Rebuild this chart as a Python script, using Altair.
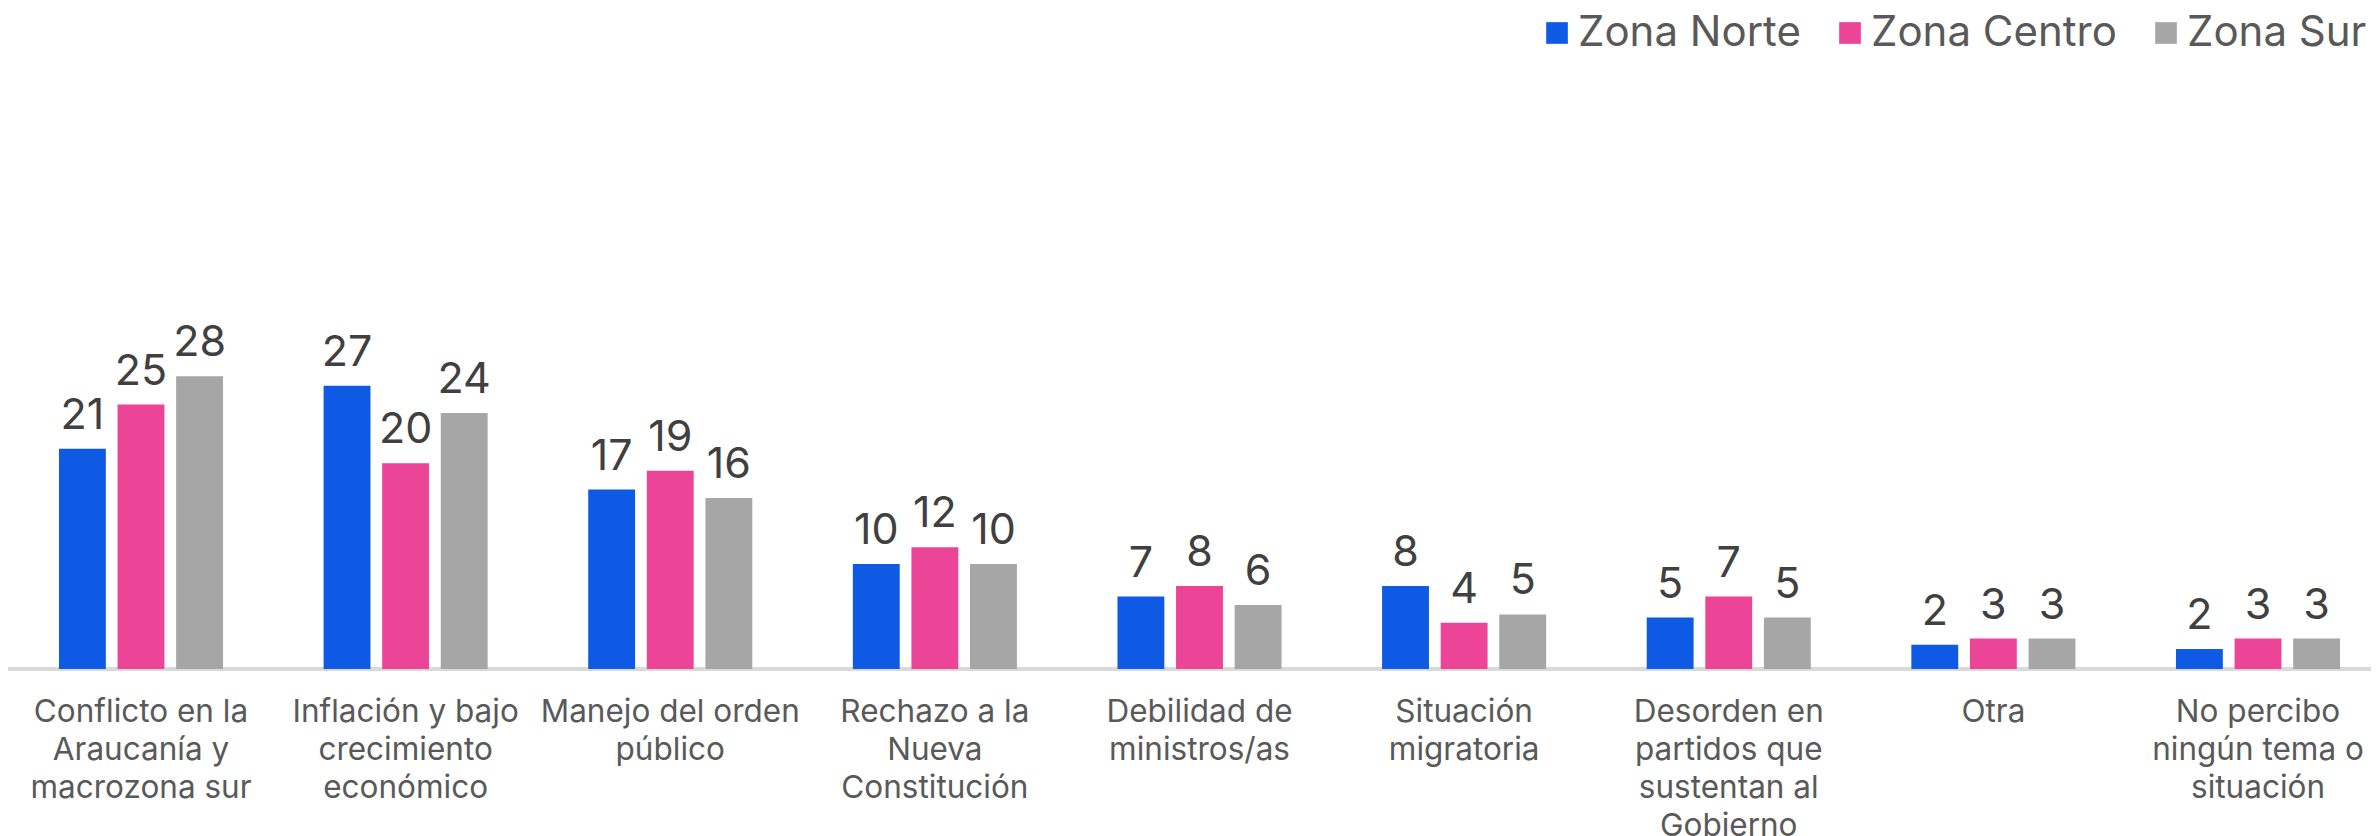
import altair as alt
import pandas as pd

categories = [
    "Conflicto en la\nAraucanía y\nmacrozona sur",
    "Inflación y bajo\ncrecimiento\neconómico",
    "Manejo del orden\npúblico",
    "Rechazo a la\nNueva\nConstitución",
    "Debilidad de\nministros/as",
    "Situación\nmigratoria",
    "Desorden en\npartidos que\nsustentan al\nGobierno",
    "Otra",
    "No percibo\nningún tema o\nsituación",
]
zones = ["Zona Norte", "Zona Centro", "Zona Sur"]
norte = [21.0, 27.0, 17.1, 10.0, 6.9, 7.9, 4.9, 2.3, 1.9]
centro = [25.2, 19.6, 18.9, 11.6, 7.9, 4.4, 6.9, 2.9, 2.9]
sur = [27.9, 24.4, 16.3, 10.0, 6.1, 5.2, 4.9, 2.9, 2.9]
colors = ["#0F5AE5", "#EC4497", "#A6A6A6"]

rows = []
for zone, vals in zip(zones, [norte, centro, sur]):
    for c, v in zip(categories, vals):
        rows.append({"tema": c, "zona": zone, "valor": v})
df = pd.DataFrame(rows)

FONT = "Inter"
LEFT = 20
W = 2343
H = 661

base = alt.Chart(df).encode(
    x=alt.X(
        "tema:N",
        sort=categories,
        title=None,
        scale=alt.Scale(paddingInner=0.38, paddingOuter=0.117),
        axis=alt.Axis(
            labelExpr="split(datum.label, '\\n')",
            labelAngle=0,
            labelFont=FONT,
            labelFontSize=31.5,
            labelLineHeight=38,
            labelColor="#595959",
            labelPadding=27,
            labelBaseline="top",
            ticks=False,
            domain=False,
            labelLimit=400,
        ),
    ),
    xOffset=alt.XOffset(
        "zona:N", sort=zones, scale=alt.Scale(paddingInner=0.2, paddingOuter=0)
    ),
    y=alt.Y(
        "valor:Q",
        scale=alt.Scale(domain=[0, 63], nice=False),
        axis=None,
    ),
)

baseline = alt.Chart(df).mark_rule(color="#D9D9D9", strokeWidth=3).encode(
    x=alt.value(-LEFT), x2=alt.value(W + 8), y=alt.value(H)
)

bars = base.mark_bar().encode(
    color=alt.Color(
        "zona:N",
        sort=zones,
        scale=alt.Scale(domain=zones, range=colors),
        legend=alt.Legend(
            title=None,
            orient="top-right",
            offset=4,
            direction="horizontal",
            symbolType="square",
            symbolSize=470,
            symbolStrokeWidth=0,
            symbolOpacity=1,
            labelFont=FONT,
            labelFontSize=42,
            labelColor="#595959",
            labelOffset=0,
            columnPadding=28,
            labelLimit=400,
        ),
    )
)

labels = base.mark_text(
    font=FONT, fontSize=43, color="#404040", baseline="alphabetic", dy=-20
).encode(text=alt.Text("valor:Q", format=".0f"))

chart = (
    alt.layer(baseline, bars, labels)
    .properties(
        width=W,
        height=H,
        background="white",
        autosize=alt.AutoSizeParams(type="none"),
        padding={"left": LEFT, "top": 0, "right": 0, "bottom": 167},
    )
    .configure_view(stroke=None, strokeWidth=0)
)

chart.save("out.html", embed_options={"renderer": "svg", "actions": False})
